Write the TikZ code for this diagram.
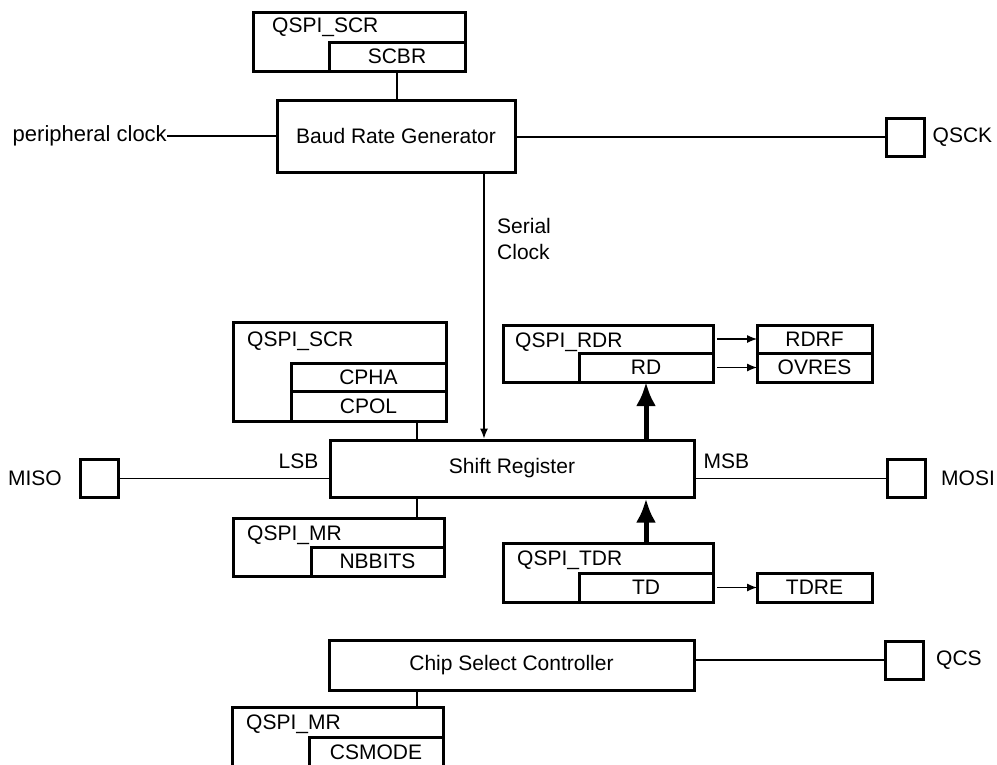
\documentclass[tikz,border=0pt]{standalone}
\usepackage{fontspec}
\setmainfont{Liberation Sans}
\usetikzlibrary{arrows.meta,positioning,calc}
\tikzset{
  regbox/.style={draw, line width=3pt, minimum width=211pt, minimum height=58pt,
                 anchor=north west, inner sep=0pt, outer sep=0pt},
  fieldbox/.style={draw, line width=3pt, minimum width=134pt, minimum height=29pt,
                   inner sep=0pt, outer sep=0pt},
  block/.style={draw, line width=3pt, inner sep=0pt},
  port/.style={draw, line width=3pt, minimum size=38pt, inner sep=0pt},
  reglabel/.style={anchor=base west, inner sep=0pt},
  pinlabel/.style={inner sep=0pt},
  wire/.style={line width=1.2pt},
  arrow/.style={wire, -{Latex[length=10pt,width=8pt]}},
  busarrow/.style={line width=5pt, -{Latex[length=24pt,width=20pt]}}
}

\begin{document}
\begin{tikzpicture}[x=1pt, y=-1pt, font=\fontsize{21}{26}\selectfont]
\clip (0,0) rectangle (997,764);
% baud rate generator and its register
\node[regbox, minimum width=212pt, minimum height=59pt] (scr1) at (253,12) {};
\node[reglabel] (scr1name) at ($(scr1.north west)+(19,20)$) {QSPI\_SCR};
\node[fieldbox, minimum width=136pt, anchor=south east] (scbr) at (scr1.south east) {SCBR};
\node[block, minimum width=238pt, minimum height=72pt] (baud) at (396,136) {Baud Rate Generator};
\node[pinlabel, anchor=east, font=\fontsize{22}{26}\selectfont] (pclk) at (167,136) {peripheral clock};
\node[port] (qsck) at (905,137) {};
\node[pinlabel, right=7pt of qsck] (qscklbl) {QSCK};
\node[pinlabel, anchor=north west, align=left] (clklbl) at (497,218) {Serial\\Clock};

% shift register
\node[block, minimum width=364pt, minimum height=57pt] (shift) at (512,468.5) {Shift Register};
\node[regbox, minimum width=213pt, minimum height=99pt] (scr2) at (233,322) {};
\node[reglabel] (scr2name) at ($(scr2.north west)+(14,24)$) {QSPI\_SCR};
\node[fieldbox, minimum width=155pt, minimum height=30pt, anchor=south east] (cpol) at (scr2.south east) {CPOL};
\node[fieldbox, minimum width=155pt, minimum height=28pt, anchor=south] (cpha) at (cpol.north) {CPHA};
\node[regbox] (mr1) at (233,518) {};
\node[reglabel] (mr1name) at ($(mr1.north west)+(14,22)$) {QSPI\_MR};
\node[fieldbox, minimum width=133pt, anchor=south east] (nbbits) at (mr1.south east) {NBBITS};
\node[port] (miso) at (99.5,478.5) {};
\node[pinlabel, left=17pt of miso] (misolbl) {MISO};
\node[port] (mosi) at (906.5,478.5) {};
\node[pinlabel, right=14pt of mosi] (mosilbl) {MOSI};
\node[pinlabel, anchor=base east] (lsb) at ($(shift.west |- miso)+(-10,-10)$) {LSB};
\node[pinlabel, anchor=base west] (msb) at ($(shift.east |- mosi)+(8,-10)$) {MSB};

% receive / transmit data registers
\node[regbox, minimum width=210pt, minimum height=57pt] (rdr) at (503,325) {};
\node[reglabel] (rdrname) at ($(rdr.north west)+(12,22)$) {QSPI\_RDR};
\node[fieldbox, anchor=south east] (rd) at (rdr.south east) {RD};
\node[fieldbox, minimum width=115pt, right=44pt of rd] (ovres) {OVRES};
\node[fieldbox, minimum width=115pt, minimum height=28pt, anchor=south] (rdrf) at (ovres.north) {RDRF};
\node[regbox, minimum width=210pt, minimum height=59pt] (tdr) at (503,543) {};
\node[reglabel] (tdrname) at ($(tdr.north west)+(14,22)$) {QSPI\_TDR};
\node[fieldbox, anchor=south east] (td) at (tdr.south east) {TD};
\node[fieldbox, minimum width=115pt, right=44pt of td] (tdre) {TDRE};

% chip select
\node[block, minimum width=365pt, minimum height=50pt] (chip) at (511.5,665) {Chip Select Controller};
\node[port] (qcs) at (904.5,660) {};
\node[pinlabel, right=11pt of qcs] (qcslbl) {QCS};
\node[regbox, minimum height=60pt] (mr2) at (232,707) {};
\node[reglabel] (mr2name) at ($(mr2.north west)+(14,22)$) {QSPI\_MR};
\node[fieldbox, minimum height=30pt, anchor=south east] (csmode) at (mr2.south east) {CSMODE};

\coordinate (midx) at (417,0);
\coordinate (clkx) at (484,0);
\draw[wire] (scbr.south) -- (scbr.south |- baud.north);
\draw[wire] (pclk.east) -- (pclk.east -| baud.west);
\draw[wire] (baud.east |- qsck) -- (qsck.west);
\draw[arrow] (baud.south -| clkx) -- (shift.north -| clkx);
\draw[wire] (cpol.south -| midx) -- (shift.north -| midx);
\draw[wire] (shift.south -| midx) -- (mr1.north -| midx);
\draw[wire] (miso.east) -- (shift.west |- miso);
\draw[wire] (shift.east |- mosi) -- (mosi.west);
\draw[busarrow] (shift.north -| rd.south) -- (rd.south);
\draw[busarrow] (tdr.north -| td.north) -- (shift.south -| td.north);
\draw[arrow, shorten <=4pt] (rdr.east |- rdrf) -- (rdrf.west);
\draw[arrow, shorten <=4pt] (rd.east) -- (ovres.west);
\draw[arrow, shorten <=4pt] (td.east) -- (tdre.west);
\draw[wire] (chip.east |- qcs) -- (qcs.west);
\draw[wire] (chip.south -| midx) -- (mr2.north -| midx);
\end{tikzpicture}
\end{document}
